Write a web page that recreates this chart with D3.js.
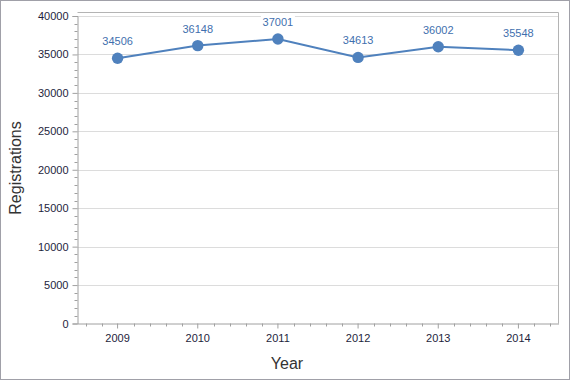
<!DOCTYPE html>
<html><head><meta charset="utf-8">
<script src="https://cdn.jsdelivr.net/npm/d3@7"></script>
<style>body{margin:0;background:#fff}svg{display:block}</style>
</head><body>
<script>
const years = ["2009","2010","2011","2012","2013","2014"];
const registrations = [34506,36148,37001,34613,36002,35548];
const yTicks = [0,5000,10000,15000,20000,25000,30000,35000,40000];

const W=570,H=380;
const svg=d3.select("body").append("svg").attr("width",W).attr("height",H);
svg.append("rect").attr("x",0.5).attr("y",0.5).attr("width",W-1).attr("height",H-1)
  .attr("fill","#fff").attr("stroke","#a0a0a8");

const L=77.5,R=558.5,T=12,B=323.5;
const x=d3.scaleBand().domain(years).range([L,R]);
const y=d3.scaleLinear().domain([0,40000]).range([B,16]);

// gridlines
svg.append("g").selectAll("line").data(yTicks.slice(1)).join("line")
  .attr("x1",L).attr("x2",R).attr("y1",d=>Math.round(y(d))+0.5).attr("y2",d=>Math.round(y(d))+0.5)
  .attr("stroke","#dcdcdc");
// plot border
svg.append("path").attr("d",`M${L},${T+0.5}H${R}V${B}`).attr("fill","none").attr("stroke","#b4b4b4");

// y axis
const ya=svg.append("g").attr("transform",`translate(${L},0)`)
  .call(d3.axisLeft(y).tickValues(yTicks).tickSize(5).tickPadding(4).tickFormat(d3.format("d")));
ya.select(".domain").attr("stroke","#a0a0a0");
ya.selectAll(".tick line").attr("stroke","#a0a0a0");
ya.selectAll("text").attr("font-family","Liberation Sans, Arial").attr("font-size",11).attr("fill","#1e1e3c");
// minor y ticks
const minorY=d3.range(0,40001,1000).filter(v=>v%5000!==0);
svg.append("g").selectAll("line").data(minorY).join("line")
  .attr("x1",L-3).attr("x2",L).attr("y1",d=>Math.round(y(d))+0.5).attr("y2",d=>Math.round(y(d))+0.5)
  .attr("stroke","#a0a0a0");

// x axis
const xa=svg.append("g").attr("transform",`translate(0,${B})`)
  .call(d3.axisBottom(x).tickSize(5).tickPadding(6).tickSizeOuter(0));
xa.select(".domain").attr("stroke","#a0a0a0");
xa.selectAll(".tick line").attr("stroke","#a0a0a0");
xa.selectAll("text").attr("font-family","Liberation Sans, Arial").attr("font-size",11).attr("fill","#1e1e3c");
// minor x ticks
const bw=x.bandwidth();
const minorX=[];
years.forEach(yr=>{for(let k=0;k<5;k++){if(k!==2) minorX.push(x(yr)+bw*(k+0.5)/5);}});
svg.append("g").selectAll("line").data(minorX).join("line")
  .attr("x1",d=>Math.round(d)+0.5).attr("x2",d=>Math.round(d)+0.5).attr("y1",B).attr("y2",B+3)
  .attr("stroke","#a0a0a0");

// line
const cx=d=>x(d)+bw/2;
const pts=years.map((yr,i)=>[cx(yr),y(registrations[i])]);
svg.append("path").attr("d",d3.line()(pts)).attr("fill","none").attr("stroke","#4f81bd").attr("stroke-width",2);
svg.append("g").selectAll("circle").data(pts).join("circle")
  .attr("cx",d=>d[0]).attr("cy",d=>d[1]).attr("r",5.7).attr("fill","#4f81bd");
const lg=svg.append("g").selectAll("g").data(registrations).join("g");
lg.append("rect").attr("x",(d,i)=>cx(years[i])-17).attr("y",d=>y(d)-24).attr("width",34).attr("height",14).attr("fill","#fff");
lg.append("text")
  .attr("x",(d,i)=>cx(years[i])).attr("y",d=>y(d)-13).attr("text-anchor","middle")
  .attr("font-family","Liberation Sans, Arial").attr("font-size",11).attr("fill","#3f6fae").text(d=>d);

// titles
svg.append("text").attr("transform",`translate(21,168) rotate(-90)`).attr("text-anchor","middle")
  .attr("font-family","Liberation Sans, Arial").attr("font-size",16).attr("fill","#333").text("Registrations");
svg.append("text").attr("x",287).attr("y",369).attr("text-anchor","middle")
  .attr("font-family","Liberation Sans, Arial").attr("font-size",16).attr("fill","#333").text("Year");
</script>
</body></html>
